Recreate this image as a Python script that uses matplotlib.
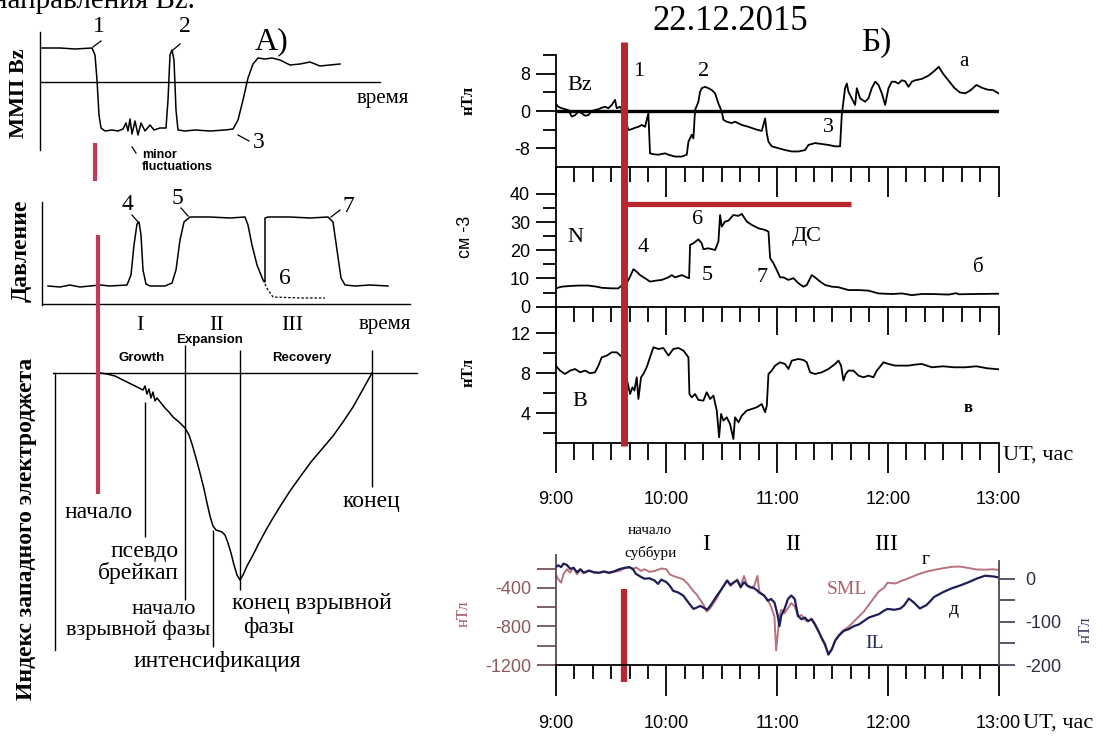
import matplotlib
matplotlib.use("Agg")
import matplotlib.pyplot as plt
import matplotlib.transforms as mtransforms
from matplotlib.lines import Line2D
from matplotlib import font_manager
from matplotlib.ticker import FixedLocator, MultipleLocator

W, H = 1103, 736
PT = 0.72  # points per pixel at 100 dpi

SERIF = ["Liberation Serif", "DejaVu Serif"]
_installed = {f.name for f in font_manager.fontManager.ttflist}
NARROW = "Liberation Sans Narrow" if "Liberation Sans Narrow" in _installed else "Liberation Sans"
BOLD_SANS = ["Liberation Sans", "DejaVu Sans"]

RED = "#b8262e"
RED_A = "#c23a55"
SML_COLOR = "#b7737f"
IL_COLOR = "#1e1e58"

plt.rcParams["font.family"] = [NARROW, "DejaVu Sans"]

# ---------------- 22.12.2015, UT hours ----------------
hour_ticks = [9, 10, 11, 12, 13]
hour_labels = ["9:00", "10:00", "11:00", "12:00", "13:00"]
onset = 9.62          # substorm onset
ds_end = 11.67        # end of the ДС interval
ds_level = 36.3

# IMF Bz, nT
bz_time = [9.000, 9.024, 9.054, 9.084, 9.114, 9.145, 9.175, 9.205, 9.235, 9.265,
           9.295, 9.325, 9.355, 9.386, 9.416, 9.446, 9.476, 9.506, 9.536, 9.551,
           9.581, 9.602, 9.657, 9.687, 9.717, 9.747, 9.777, 9.807, 9.837, 9.852,
           9.883, 9.928, 9.988, 10.018, 10.078, 10.139, 10.184, 10.199, 10.229, 10.244,
           10.259, 10.289, 10.304, 10.319, 10.349, 10.380, 10.410, 10.440, 10.470, 10.500,
           10.515, 10.545, 10.590, 10.620, 10.681, 10.741, 10.801, 10.861, 10.892, 10.907,
           10.922, 10.952, 11.012, 11.072, 11.133, 11.193, 11.253, 11.283, 11.343, 11.404,
           11.464, 11.524, 11.569, 11.584, 11.614, 11.630, 11.645, 11.675, 11.705, 11.720,
           11.750, 11.795, 11.825, 11.855, 11.886, 11.916, 11.946, 11.976, 12.006, 12.036,
           12.066, 12.096, 12.127, 12.157, 12.187, 12.217, 12.247, 12.307, 12.367, 12.42,
           12.46, 12.50, 12.55, 12.60, 12.65, 12.70, 12.75, 12.80, 12.85, 12.90,
           12.95, 13.00]
bz_nt = [1.6, 0.9, 0.6, 0.4, 0.2, -1.2, -0.9, -0.1, -0.5, -1.0,
         -0.9, 0.0, 0.2, 0.4, 0.7, 0.9, 0.6, 1.3, 2.4, 0.6,
         0.9, 0.2, -4.1, -3.9, -3.6, -3.4, -3.0, -3.4, -0.5, -9.1,
         -9.3, -9.4, -9.1, -9.4, -9.8, -9.8, -9.4, -6.6, -5.1, -5.9,
         0.2, 2.0, 4.1, 4.9, 5.2, 4.9, 4.5, 3.8, 1.6, -0.1,
         -1.9, -2.3, -2.6, -2.3, -3.0, -3.4, -3.9, -4.3, -1.6, -4.8,
         -6.6, -7.6, -8.0, -8.4, -8.7, -8.7, -8.4, -7.3, -6.9, -7.1,
         -7.3, -7.6, -7.6, -0.9, 4.9, 5.9, 4.1, 2.7, 1.3, 4.9,
         2.7, 2.0, 2.7, 4.9, 6.3, 5.6, 3.8, 1.3, 4.9, 6.3,
         6.3, 5.9, 6.6, 6.4, 5.2, 6.3, 6.6, 6.9, 7.6, 8.6,
         9.5, 8.0, 6.5, 5.0, 4.0, 3.8, 4.5, 5.6, 5.0, 4.6,
         4.5, 3.8]

# solar wind density N, cm^-3
n_time = [9.000, 9.054, 9.114, 9.205, 9.295, 9.370, 9.416, 9.506, 9.566, 9.602,
          9.642, 9.672, 9.702, 9.732, 9.762, 9.807, 9.852, 9.898, 9.958, 10.018,
          10.048, 10.078, 10.139, 10.184, 10.205, 10.214, 10.244, 10.289, 10.319, 10.334,
          10.380, 10.440, 10.470, 10.485, 10.500, 10.530, 10.560, 10.605, 10.651, 10.681,
          10.726, 10.771, 10.831, 10.892, 10.922, 10.937, 10.967, 10.997, 11.027, 11.057,
          11.102, 11.148, 11.193, 11.238, 11.268, 11.313, 11.343, 11.389, 11.434, 11.494,
          11.554, 11.645, 11.735, 11.825, 11.916, 12.036, 12.127, 12.217, 12.307, 12.398,
          12.55, 12.62, 12.64, 12.80, 13.00]
n_cm3 = [6.5, 7.1, 7.3, 7.5, 7.5, 7.1, 6.7, 6.5, 6.5, 7.7,
         8.3, 10.7, 13.3, 12.4, 11.2, 10.1, 8.9, 9.2, 9.5, 10.4,
         11.2, 10.4, 11.2, 10.4, 10.1, 21.9, 22.5, 23.9, 22.5, 20.4,
         20.7, 20.1, 23.1, 32.5, 28.4, 30.2, 30.5, 32.5, 32.2, 32.9,
         30.2, 29.0, 27.8, 27.2, 26.6, 17.2, 15.4, 13.0, 10.4, 10.4,
         9.5, 10.1, 8.3, 7.1, 7.7, 11.2, 10.4, 8.9, 7.7, 7.1,
         6.9, 5.9, 5.9, 5.7, 4.7, 4.5, 4.7, 4.1, 4.5, 4.5,
         4.3, 4.8, 4.4, 4.5, 4.6]

# IMF magnitude B, nT
b_time = [9.000, 9.039, 9.084, 9.130, 9.175, 9.220, 9.265, 9.310, 9.355, 9.386,
          9.416, 9.461, 9.506, 9.551, 9.602, 9.642, 9.672, 9.693, 9.711, 9.732,
          9.747, 9.771, 9.792, 9.822, 9.852, 9.883, 9.928, 9.973, 10.018, 10.063,
          10.108, 10.154, 10.199, 10.208, 10.229, 10.259, 10.289, 10.334, 10.364, 10.395,
          10.425, 10.455, 10.476, 10.494, 10.515, 10.545, 10.575, 10.605, 10.620, 10.651,
          10.681, 10.726, 10.771, 10.816, 10.861, 10.892, 10.907, 10.922, 10.952, 10.982,
          11.027, 11.072, 11.102, 11.133, 11.193, 11.238, 11.268, 11.298, 11.343, 11.404,
          11.464, 11.524, 11.554, 11.578, 11.599, 11.620, 11.645, 11.690, 11.735, 11.780,
          11.825, 11.870, 11.901, 11.961, 12.006, 12.066, 12.127, 12.187, 12.247, 12.307,
          12.352, 12.398, 12.50, 12.60, 12.70, 12.80, 12.90, 13.00]
b_nt = [8.77, 8.27, 7.93, 8.27, 8.43, 8.10, 8.27, 8.00, 8.10, 8.77,
        9.60, 9.77, 10.10, 10.10, 9.60, 7.43, 5.93, 6.60, 6.27, 7.60,
        5.43, 7.60, 7.93, 8.60, 9.60, 10.60, 10.43, 10.53, 9.77, 10.43,
        10.53, 10.27, 9.60, 5.93, 5.60, 5.93, 5.33, 5.27, 6.10, 5.43,
        5.77, 4.27, 1.60, 3.93, 3.27, 3.60, 2.93, 1.43, 3.60, 3.10,
        3.77, 4.27, 4.43, 4.60, 4.93, 4.10, 4.77, 7.93, 8.27, 8.77,
        9.10, 8.93, 8.43, 9.27, 9.43, 9.33, 9.10, 8.10, 7.93, 8.10,
        8.43, 8.93, 9.27, 8.77, 7.27, 7.93, 8.27, 8.27, 7.77, 7.60,
        7.77, 7.60, 8.27, 9.10, 8.93, 8.77, 8.77, 8.77, 8.87, 8.93,
        8.77, 8.60, 8.70, 8.60, 8.60, 8.70, 8.50, 8.40]

# SML index (left axis) and IL index (right axis), nT
idx_time = [9.000, 9.024, 9.049, 9.070, 9.101, 9.131, 9.162, 9.192, 9.223, 9.253,
            9.299, 9.345, 9.390, 9.436, 9.482, 9.527, 9.573, 9.619, 9.665, 9.695,
            9.726, 9.771, 9.802, 9.848, 9.893, 9.924, 9.954, 10.000, 10.030, 10.061,
            10.107, 10.152, 10.198, 10.244, 10.274, 10.305, 10.335, 10.366, 10.396, 10.427,
            10.457, 10.488, 10.518, 10.549, 10.579, 10.610, 10.640, 10.671, 10.701, 10.732,
            10.762, 10.793, 10.823, 10.838, 10.884, 10.915, 10.945, 10.976, 10.991, 11.006,
            11.021, 11.037, 11.067, 11.098, 11.128, 11.159, 11.189, 11.220, 11.250, 11.280,
            11.311, 11.341, 11.372, 11.402, 11.433, 11.463, 11.494, 11.524, 11.555, 11.601,
            11.646, 11.692, 11.738, 11.784, 11.829, 11.875, 11.921, 11.966, 11.997]
sml_nt = [-260, -312, -347, -260, -207, -242, -189, -260, -214, -249,
          -225, -242, -249, -235, -249, -235, -225, -200, -189, -207,
          -189, -225, -207, -235, -225, -214, -200, -207, -260, -277,
          -295, -312, -365, -435, -470, -523, -575, -646, -611, -558,
          -505, -435, -382, -330, -382, -347, -312, -382, -277, -382,
          -400, -382, -277, -435, -488, -523, -593, -698, -1049, -874,
          -698, -628, -663, -611, -558, -593, -698, -681, -733, -751,
          -716, -768, -839, -926, -997, -1084, -1032, -944, -891, -839,
          -804, -751, -698, -646, -575, -505, -435, -400, -347]
il_nt = [27, 31, 27, 35, 32, 23, 25, 15, 22, 14,
         19, 15, 14, 17, 14, 17, 22, 25, 27, 23,
         11, 4, 0, 1, -4, -12, -2, -8, -16, -28,
         -32, -39, -55, -70, -67, -63, -67, -72, -63, -51,
         -39, -28, -16, -4, -14, -8, -4, -20, -8, -16,
         -20, -22, -28, -32, -39, -51, -47, -55, -70, -86,
         -110, -86, -70, -47, -39, -47, -86, -94, -90, -98,
         -94, -106, -121, -137, -152, -176, -164, -144, -133, -121,
         -117, -110, -106, -98, -90, -86, -82, -74, -70]
sml_late_time = [12.07, 12.12, 12.19, 12.27, 12.35, 12.42, 12.50, 12.58, 12.65, 12.73,
                 12.80, 12.88, 12.95, 13.00]
sml_late_nt = [-355, -330, -300, -262, -232, -214, -197, -182, -180, -195,
               -210, -212, -208, -214]
il_late_time = [12.06, 12.115, 12.15, 12.19, 12.23, 12.29, 12.35, 12.42, 12.50, 12.58,
                12.65, 12.73, 12.81, 12.88, 12.96, 13.00]
il_late_nt = [-72, -69, -61, -46, -54, -69, -61, -42, -31, -22,
              -16, -8, 1, 7, 5, 3]

# ---------------- schematic curves (arbitrary units) ----------------
sketch_bz_t = [2, 20, 35, 52, 55, 57, 59, 61, 65, 72, 78, 83, 86, 88, 90, 92, 95, 98,
               101, 105, 110, 114, 120, 126, 128, 130, 132, 134, 136, 138, 145, 155,
               170, 185, 193, 198, 203, 208, 213, 218, 225, 232, 240, 250, 260, 270,
               280, 290, 300]
sketch_bz_v = [34, 34, 33, 34, 27, 2, -33, -46, -49, -48, -49, -47, -41, -49, -37, -52,
               -39, -53, -41, -49, -43, -48, -46, -46, -18, 27, 32, 22, -28, -48, -49,
               -48, -49, -48, -47, -38, -18, 4, 18, 24, 23, 24, 22, 17, 18, 20, 16, 17,
               18]

sketch_p_t = [6, 18, 28, 38, 48, 58, 68, 85, 89, 92, 95, 97, 99, 101, 104, 108, 123,
              130, 134, 138, 142, 148, 168, 188, 203, 206, 210, 215, 221, 223, 223,
              226, 248, 268, 286, 291, 295, 299, 303, 313, 328, 346]
sketch_p_v = [18, 17, 19, 17, 18, 19, 18, 19, 29, 59, 80, 82, 69, 34, 20, 18, 18,
              21, 34, 64, 82, 87, 87, 86, 87, 79, 59, 39, 24, 22, 86,
              87, 87, 86, 87, 82, 54, 26, 19, 18, 19, 18]
sketch_p_drop_t = [221, 226, 231, 258, 283]
sketch_p_drop_v = [24, 14, 7, 6, 6]

sketch_al_t = [45, 52, 60, 66, 72, 80, 88, 90, 92, 94, 96, 98, 100, 102, 106, 110,
               114, 118, 124, 130, 134, 137, 141, 145, 149, 152, 155, 158, 161, 164,
               167, 170, 173, 176, 179, 182, 185, 188, 192, 198, 204, 211, 218, 226,
               235, 245, 256, 267, 278, 288, 298, 307, 317]
sketch_al_v = [0, -1, -3, -6, -9, -13, -17, -13, -21, -16, -25, -19, -28, -25, -30,
               -35, -39, -44, -49, -55, -62, -71, -85, -100, -116, -130, -143, -153,
               -157, -158, -159, -162, -170, -180, -192, -202, -207, -202, -193, -182,
               -170, -157, -145, -132, -118, -104, -89, -76, -63, -49, -34, -18, 0]
# phase markers: pseudo-breakup, expansion onset, intensification, end of expansion, end
marker_t = [90, 130, 158, 185, 317]
marker_top = [-29, 28, -157, 23, 23]
marker_bottom = [-164, -227, -274, -217, -114]
sketch_onset = 43

fig = plt.figure(figsize=(W / 100, H / 100), dpi=100)


def px_axes(x0, y0, x1, y1):
    return fig.add_axes([x0 / W, 1 - y1 / H, (x1 - x0) / W, (y1 - y0) / H],
                        facecolor="none")


def time_panel(ax, minor_len, major_len):
    for s in ("top", "right"):
        ax.spines[s].set_visible(False)
    for s in ("left", "bottom"):
        ax.spines[s].set_linewidth(1.3)
    ax.set_xlim(9, 13)
    ax.xaxis.set_major_locator(FixedLocator(hour_ticks))
    ax.xaxis.set_minor_locator(MultipleLocator(1 / 6))
    ax.tick_params(axis="x", which="major", length=major_len * PT, width=1.3,
                   labelbottom=False)
    ax.tick_params(axis="x", which="minor", length=minor_len * PT, width=1.3)
    ax.tick_params(axis="y", which="major", length=20 * PT, width=1.3,
                   labelsize=13, pad=4)
    ax.tick_params(axis="y", which="minor", length=13 * PT, width=1.3)


X0, X1 = 555.7, 998.5

# --- Bz
ax_bz = px_axes(X0, 55.2, X1, 166.8)
time_panel(ax_bz, 15, 30)
ax_bz.plot(bz_time, bz_nt, color="k", lw=1.3)
ax_bz.axhline(0, color="k", lw=2.4)
ax_bz.set_ylim(-12, 12)
ax_bz.set_yticks([-8, 0, 8], labels=["-8", "0", "8"])
ax_bz.set_yticks([-4, 4, 12], minor=True)

# --- N
ax_n = px_axes(X0, 166.8, X1, 306.7)
time_panel(ax_n, 15, 28)
ax_n.plot(n_time, n_cm3, color="k", lw=1.3)
ax_n.plot([onset, ds_end], [ds_level, ds_level], color=RED, lw=3.8,
          solid_capstyle="butt")
ax_n.set_ylim(0, 49.6)
ax_n.set_yticks([0, 10, 20, 30, 40])
ax_n.set_yticks([5, 15, 25, 35], minor=True)

# --- B
ax_b = px_axes(X0, 306.7, X1, 443.3)
time_panel(ax_b, 17, 30)
ax_b.plot(b_time, b_nt, color="k", lw=1.3)
ax_b.set_ylim(1.0, 14.66)
ax_b.set_yticks([4, 8, 12])
ax_b.set_yticks([2, 6, 10], minor=True)
ax_b.set_xticks(hour_ticks, labels=hour_labels)
ax_b.tick_params(axis="x", which="major", labelbottom=True, labelsize=13, pad=13)

# onset line through the three upper panels
onset_tr = mtransforms.blended_transform_factory(ax_bz.transData, fig.transFigure)
fig.add_artist(Line2D([onset, onset], [1 - 42 / H, 1 - 446 / H], transform=onset_tr,
                      color=RED, lw=5.0, solid_capstyle="butt"))

# --- SML / IL
ax_idx = px_axes(X0, 555, X1, 665)
ax_il = ax_idx.twinx()
ax_il.set_facecolor("none")
time_panel(ax_idx, 14, 31)
ax_idx.plot(idx_time + sml_late_time, sml_nt + sml_late_nt, color=SML_COLOR, lw=1.4)
ax_il.plot(idx_time + il_late_time, il_nt + il_late_nt, color=IL_COLOR, lw=1.6)
ax_idx.set_ylim(-1200, -60)
ax_idx.set_yticks([-400, -800, -1200], labels=["-400", "-800", "-1200"])
ax_idx.set_yticks([-200, -600, -1000], minor=True)
ax_idx.tick_params(axis="y", which="both", length=19 * PT, labelcolor="#8a5a5e",
                   color="#6e5458")
ax_idx.spines["left"].set_color("#5a4a4e")
ax_idx.set_xticks(hour_ticks, labels=hour_labels)
ax_idx.tick_params(axis="x", which="major", labelbottom=True, labelsize=13, pad=14)
ax_idx.plot([onset, onset], [-415, -1378], color=RED, lw=4.5, clip_on=False,
            solid_capstyle="butt")

for s in ("left", "top", "bottom"):
    ax_il.spines[s].set_visible(False)
ax_il.spines["right"].set_linewidth(1.3)
ax_il.spines["right"].set_color("#4a4a5e")
ax_il.set_ylim(-200, 55)
ax_il.spines["right"].set_bounds(-200, 42)
ax_il.set_yticks([0, -100, -200], labels=["0", "-100", "-200"])
ax_il.set_yticks([-50, -150], minor=True)
ax_il.tick_params(axis="y", which="both", length=16 * PT, width=1.3, labelsize=13,
                  pad=8, labelcolor="#2e2e48", color="#4a4a5e")

# ---------------- schematic panel А) ----------------
ax_a1 = px_axes(40, 28, 385, 152)
ax_a1.set_xlim(0, 345)
ax_a1.set_ylim(-70, 54)
for s in ("top", "right", "bottom"):
    ax_a1.spines[s].set_visible(False)
ax_a1.spines["left"].set_bounds(-68, 50)
ax_a1.spines["left"].set_linewidth(1.0)
ax_a1.set_xticks([])
ax_a1.set_yticks([])
ax_a1.plot([0, 340], [0, 0], color="k", lw=1.0)
ax_a1.plot(sketch_bz_t, sketch_bz_v, color="k", lw=1.1)
ax_a1.plot([55, 55], [-61, -99], color=RED_A, lw=3.0, clip_on=False,
           solid_capstyle="butt")

ax_a2 = px_axes(42, 198, 415, 306)
ax_a2.set_xlim(0, 373)
ax_a2.set_ylim(-2, 106)
for s in ("top", "right", "bottom"):
    ax_a2.spines[s].set_visible(False)
ax_a2.spines["left"].set_bounds(-1, 102)
ax_a2.spines["left"].set_linewidth(1.0)
ax_a2.set_xticks([])
ax_a2.set_yticks([])
ax_a2.plot([0, 368], [0, 0], color="k", lw=1.0)
ax_a2.plot(sketch_p_t, sketch_p_v, color="k", lw=1.1)
ax_a2.plot(sketch_p_drop_t, sketch_p_drop_v, color="k", lw=0.9, ls=(0, (2, 1.5)))

ax_a3 = px_axes(53, 340, 420, 660)
ax_a3.set_xlim(-2, 365)
ax_a3.set_ylim(-287, 33)
ax_a3.axis("off")
ax_a3.plot([-2, 362], [0, 0], color="k", lw=1.0)
ax_a3.plot([0, 0], [0, -277], color="k", lw=1.0)
ax_a3.plot(sketch_al_t, sketch_al_v, color="k", lw=1.1)
ax_a3.vlines(marker_t, marker_bottom, marker_top, color="k", lw=1.0)
sk_tr = mtransforms.blended_transform_factory(ax_a3.transData, fig.transFigure)
fig.add_artist(Line2D([sketch_onset, sketch_onset], [1 - 235 / H, 1 - 494 / H],
                      transform=sk_tr, color=RED_A, lw=3.0, solid_capstyle="butt"))

# ---------------- text layer (pixel coordinates) ----------------
ov = fig.add_axes([0, 0, 1, 1], facecolor="none")
ov.set_xlim(0, W)
ov.set_ylim(H, 0)
ov.axis("off")


def put(x, y, s, size, family=SERIF, ha="center", va="center", **kw):
    ov.text(x, y, s, fontsize=size, family=family, ha=ha, va=va, **kw)


def leader(x0, y0, x1, y1):
    ov.plot([x0, x1], [y0, y1], color="k", lw=0.9)


put(-8, 8, "направления Bz.", 21, ha="left", va="baseline")

# А) Bz sketch
put(99, 26, "1", 17)
leader(93, 47, 101, 41)
put(185, 27, "2", 17)
leader(173, 50, 180, 44)
put(259, 143, "3", 17)
leader(238, 135, 249, 141)
put(272, 42, "А)", 23)
put(383, 98, "время", 15)
put(19, 93, "ММП Bz", 16, rotation=90, weight="bold")
leader(132, 147, 136, 153)
put(142, 155, "minor", 9, family=BOLD_SANS, ha="left", weight="bold")
put(142, 167, "fluctuations", 9, family=BOLD_SANS, ha="left", weight="bold")

# А) pressure sketch
put(127, 205, "4", 17)
leader(132, 215, 138, 222)
put(177, 198, "5", 17)
leader(181, 208, 188, 216)
put(348, 206, "7", 17)
leader(340, 210, 331, 217)
put(285, 278, "6", 17)
put(140, 325, "I", 16)
put(217, 325, "II", 16)
put(292, 325, "III", 16)
put(385, 325, "время", 15)
put(21, 251, "Давление", 17, rotation=90, weight="bold")

# А) electrojet sketch
put(210, 340, "Expansion", 9.5, family=BOLD_SANS, weight="bold")
put(142, 358, "Growth", 9.5, family=BOLD_SANS, weight="bold")
put(302, 358, "Recovery", 9.5, family=BOLD_SANS, weight="bold")
put(99, 513, "начало", 17)
put(179, 552, "псевдо", 17, ha="right")
put(179, 573, "брейкап", 17, ha="right")
put(164, 609, "начало", 16)
put(210, 630, "взрывной фазы", 16, ha="right")
put(217, 662, "интенсификация", 17)
put(232, 603, "конец взрывной", 17, ha="left")
put(243, 628, "фазы", 17, ha="left")
put(371, 502, "конец", 17)
put(27, 529, "Индекс западного электроджета", 17, rotation=90, weight="bold")

# Б) observations
put(730, 22, "22.12.2015", 25)
put(876, 43, "Б)", 24)
put(469, 100, "нТл", 12, rotation=90, weight="bold")
put(466, 237, "см -3", 13, family=[NARROW, "DejaVu Sans"], rotation=90)
put(469, 372, "нТл", 12, rotation=90, weight="bold")
put(580, 86, "Bz", 16)
put(639, 72, "1", 16)
put(704, 72, "2", 16)
put(828, 128, "3", 16)
put(964, 62, "а", 15)
put(575, 237, "N", 16)
put(643, 248, "4", 16)
put(698, 219, "6", 16)
put(707, 276, "5", 16)
put(762, 277, "7", 16)
put(807, 236, "ДС", 16)
put(978, 267, "б", 15)
put(580, 402, "B", 16)
put(968, 408, "в", 12, weight="bold")
put(1003, 455, "UT, час", 16, ha="left")

put(650, 531, "начало", 11)
put(651, 553, "суббури", 11)
put(706, 545, "I", 17)
put(793, 545, "II", 17)
put(886, 545, "III", 17)
put(926, 560, "г", 14)
put(847, 590, "SML", 14, color="#a8606c")
put(875, 643, "IL", 14, color="#2a2a5a")
put(954, 610, "д", 14)
put(464, 614, "нТл", 12, rotation=90, color="#a05a60")
put(1086, 630, "нТл", 12, rotation=90, color="#3a3a5e")
put(1023, 723, "UT, час", 16, ha="left")

fig.savefig("out.png", dpi=100)
